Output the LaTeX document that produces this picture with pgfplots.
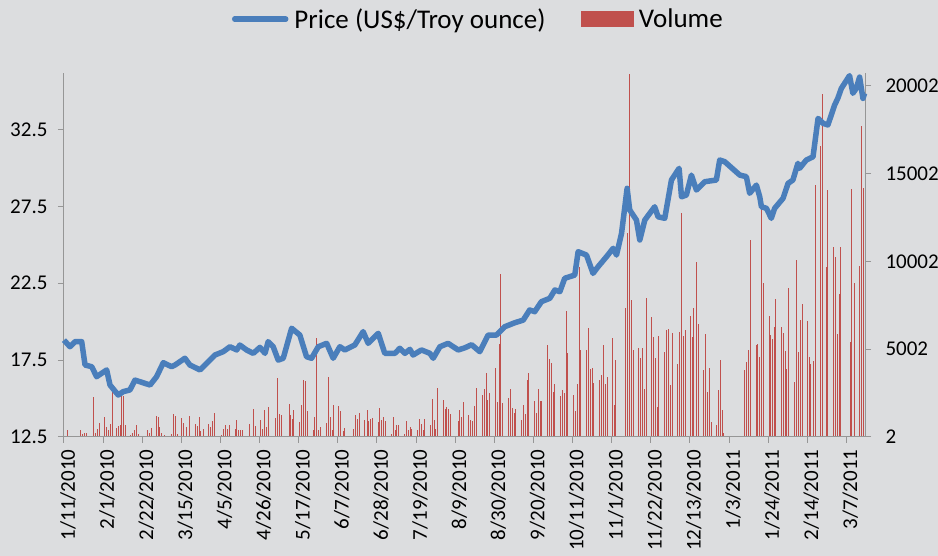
\documentclass[border=0pt]{standalone}
\usepackage{pgfplots}
\pgfplotsset{compat=1.18}
\usepackage{pgfplotstable}
\usepackage{fontspec}
\setmainfont{Carlito}
\definecolor{bg}{RGB}{220,221,223}
\definecolor{axgray}{RGB}{150,150,150}
\definecolor{pblue}{RGB}{74,126,187}
\definecolor{vred}{RGB}{192,80,77}

\pgfplotstableread{
d p
0 18.8
3.2 18.37
5.9 18.7
9.5 18.7
11.3 17.18
14.9 17.07
17.5 16.42
20.2 16.64
22.9 16.86
24.7 15.88
29.1 15.23
31.8 15.45
35.4 15.56
38.1 16.2
46.2 15.88
49.7 16.42
53.3 17.33
57.8 17.07
59.6 17.18
64.9 17.62
67.6 17.18
71.2 16.97
73.0 16.86
76.6 17.29
81.0 17.83
85.5 18.05
89.1 18.37
92.7 18.16
94.4 18.48
98.0 18.16
101.6 17.94
105.2 18.33
107.9 17.94
109.6 18.7
112.3 18.37
115.0 17.5
117.7 17.62
122.2 19.57
126.6 19.13
130.2 17.72
132.9 17.62
136.5 18.37
141.0 18.59
144.5 17.62
148.1 18.37
150.8 18.16
156.1 18.48
160.6 19.35
163.3 18.59
168.7 19.24
172.2 17.94
177.6 17.94
180.3 18.27
183.0 17.94
185.7 18.2
187.4 17.83
191.9 18.16
196.4 17.94
198.2 17.62
201.8 18.37
206.2 18.59
211.6 18.16
215.2 18.3
218.8 18.5
223.2 18.05
227.7 19.13
232.2 19.13
236.6 19.67
242.0 19.93
246.5 20.1
250.0 20.76
252.7 20.65
256.3 21.3
260.8 21.52
263.5 22.06
266.2 21.95
268.8 22.82
274.2 23.03
276.0 24.55
280.5 24.33
284.0 23.14
286.7 23.57
291.2 24.22
294.8 24.77
296.6 24.33
299.3 25.74
302.3 28.67
303.7 27.26
307.3 26.61
309.1 25.31
311.8 26.61
317.1 27.47
318.9 26.82
322.5 26.72
326.1 29.21
330.2 29.97
331.5 28.12
334.1 28.23
336.8 29.53
339.5 28.56
344.0 29.1
350.2 29.21
352.0 30.51
354.7 30.4
362.8 29.53
366.3 29.43
368.1 28.35
371.7 28.88
373.5 28.12
374.4 27.47
377.1 27.37
379.7 26.72
381.5 27.37
386.0 28.02
388.7 28.99
391.3 29.21
394.0 30.3
394.9 29.97
398.5 30.51
402.1 30.72
404.8 33.22
407.4 32.9
410.1 32.79
413.7 34.09
415.4 34.52
417.3 35.17
421.7 36.0
423.5 34.85
425.3 35.17
427.1 35.9
428.9 34.52
429.8 34.85
}\pricetable

\pgfplotstableread{
d v
1.3 380
2.4 60
3.4 60
8.4 420
9.5 150
10.6 250
11.7 250
15.2 2280
16.5 230
17.4 475
18.5 800
21.1 1140
22.4 570
23.3 420
24.2 720
25.4 2660
27.8 530
28.7 630
29.6 665
30.5 2320
31.3 2320
32.4 665
35.3 95
36.4 230
37.1 420
38.3 685
39.4 150
44.2 380
45.3 230
46.5 510
49.2 1200
50.3 1140
51.0 570
52.1 230
53.3 95
57.1 190
58.2 1330
59.2 1200
60.3 190
62.8 1065
63.9 800
65.0 570
67.1 1180
70.2 760
71.2 610
72.1 1140
73.0 340
74.3 475
77.3 720
78.2 570
79.3 910
80.2 1370
81.4 60
84.1 95
85.2 440
86.2 665
87.1 475
88.2 665
91.3 475
92.3 950
93.4 380
94.5 380
95.4 380
99.0 720
101.1 1615
102.2 610
105.2 990
106.1 475
107.2 1560
108.1 570
109.1 1710
113.1 1100
114.1 3380
115.2 1330
116.1 1235
120.4 1900
121.1 1235
122.0 1045
122.7 1520
126.1 855
127.0 1805
128.1 3230
129.0 3190
130.1 1480
133.3 380
134.2 1140
135.1 5640
136.3 420
137.2 570
140.4 800
141.3 3400
142.4 1140
143.5 380
144.2 1805
147.1 1750
148.1 1480
149.4 340
150.3 510
155.1 440
156.2 1235
157.3 1045
158.3 1390
161.0 950
162.3 1520
163.2 910
164.1 1010
165.0 1065
168.2 835
169.1 1650
170.1 950
171.2 1140
172.1 910
175.3 190
176.2 1140
177.3 380
178.2 665
179.3 665
182.5 150
183.4 890
184.5 380
185.3 570
186.2 475
189.5 380
190.2 1010
191.3 720
192.3 380
193.2 1045
196.3 665
197.2 2150
198.2 950
199.1 475
200.0 2810
203.1 2090
204.1 1580
205.0 1710
206.1 1615
207.0 1330
211.1 890
212.0 1520
213.1 1140
214.1 1976
216.8 1236
217.9 950
219.0 913
220.0 1750
221.1 2815
224.0 2415
225.1 2720
226.1 3670
227.0 2090
228.1 2510
231.0 3937
232.0 2000
233.1 5325
234.0 9280
235.1 1940
237.9 2244
239.0 2758
240.1 1655
241.2 1370
242.1 1617
244.9 990
246.0 1807
247.1 1293
248.1 3233
249.0 3671
251.9 2035
253.0 1388
254.0 2758
255.1 2035
256.0 2035
258.9 5230
259.9 4431
261.0 4222
262.1 2567
263.0 3005
265.8 2320
266.9 2700
268.0 2530
269.1 7170
269.9 4793
272.8 2415
273.9 1483
275.0 3043
276.0 9700
276.9 4983
279.8 4983
280.9 6220
281.9 3861
283.0 3956
283.9 3100
286.8 3233
287.8 3518
288.9 5230
290.0 3043
291.0 3424
293.9 5650
294.8 1807
295.7 4375
300.7 7323
301.8 11600
302.9 20700
303.9 7800
305.0 4945
307.9 5097
308.8 4527
309.8 5078
310.9 2758
312.0 7893
314.8 6809
315.7 5706
316.8 4527
317.9 1712
318.9 5763
321.8 4850
322.9 6086
324.0 6124
324.9 2986
325.9 5934
328.8 4146
329.7 5991
330.8 12780
331.8 5744
332.9 6086
335.8 6885
336.7 5706
337.7 7323
338.8 9985
339.9 6429
342.7 3804
343.8 5858
344.9 2568
345.8 3937
346.9 856
349.7 704
350.6 2701
351.7 4375
352.8 1522
353.8 228
364.9 3842
365.8 4280
366.7 4945
367.8 11222
371.0 5230
371.9 5326
372.8 4565
373.9 13030
374.8 8750
378.0 6885
378.9 5800
379.8 5573
380.8 6277
381.7 7855
384.8 6240
385.9 5900
386.8 4888
387.6 3900
388.7 8464
391.9 3138
392.8 10080
393.7 4850
394.8 6657
395.7 7570
398.7 6600
399.6 4565
400.5 4146
401.6 4318
402.7 14360
405.7 16547
406.8 19533
408.6 9700
409.6 14075
412.7 10803
413.8 10270
414.7 5858
415.7 8120
416.6 10803
421.5 5420
422.5 14132
423.6 8750
426.8 9738
427.7 17726
428.6 14170
}\voltable

\begin{document}
\begin{tikzpicture}
\fill[bg] (0,0) rectangle (938pt,556pt);
\useasboundingbox (0,0) rectangle (938pt,556pt);
\pgfplotsset{common/.style={
  at={(64pt,119pt)}, anchor=south west, scale only axis,
  width=801pt, height=364pt,
  xmin=0, xmax=430,
  tick align=outside, major tick length=6pt,
  every tick/.style={axgray, line width=1pt},
  axis line style={axgray, line width=1pt},
  tick label style={font=\fontsize{21}{25}\selectfont, text=black},
  scaled ticks=false,
}}
\begin{axis}[common,
  axis x line=none, axis y line*=right,
  ymin=2, ymax=20732,
  ytick={2,5002,10002,15002,20002},
  yticklabels={2,5002,10002,15002,20002},
  yticklabel style={xshift=11pt},
]
\addplot[ycomb, vred, line width=1pt, no marks] table[x expr=\thisrow{d}+0.5, y=v]{\voltable};
\end{axis}
\begin{axis}[common,
  axis x line*=bottom, axis y line*=left,
  ymin=12.5, ymax=36.17,
  ytick={12.5,17.5,22.5,27.5,32.5},
  yticklabels={12.5,17.5,22.5,27.5,32.5},
  yticklabel style={xshift=-7pt},
  xtick={0,21,...,420},
  xticklabels={1/11/2010,2/1/2010,2/22/2010,3/15/2010,4/5/2010,4/26/2010,5/17/2010,6/7/2010,6/28/2010,7/19/2010,8/9/2010,8/30/2010,9/20/2010,10/11/2010,11/1/2010,11/22/2010,12/13/2010,1/3/2011,1/24/2011,2/14/2011,3/7/2011},
  xticklabel style={rotate=90, anchor=east, xshift=-3pt, yshift=-4pt},
  clip=false,
  legend columns=2,
  legend style={at={(axis description cs:0.2097,1.148)}, anchor=west,
    draw=none, fill=none, inner sep=0pt, outer sep=0pt,
    font=\fontsize{27}{32}\selectfont,
    column sep=4pt,
    /tikz/every even column/.append style={column sep=33pt}},
]
\addplot[pblue, line width=5.5pt, line join=round,
  legend image code/.code={\draw[line cap=round] (2.5pt,0pt) -- (53.5pt,0pt);}]
  table[x=d, y=p]{\pricetable};
\addlegendentry{Price (US\$/Troy ounce)}
\addlegendimage{legend image code/.code={\fill[vred] (0pt,-7.5pt) rectangle (52pt,7.5pt);}}
\addlegendentry{Volume}
\end{axis}
\end{tikzpicture}
\end{document}
